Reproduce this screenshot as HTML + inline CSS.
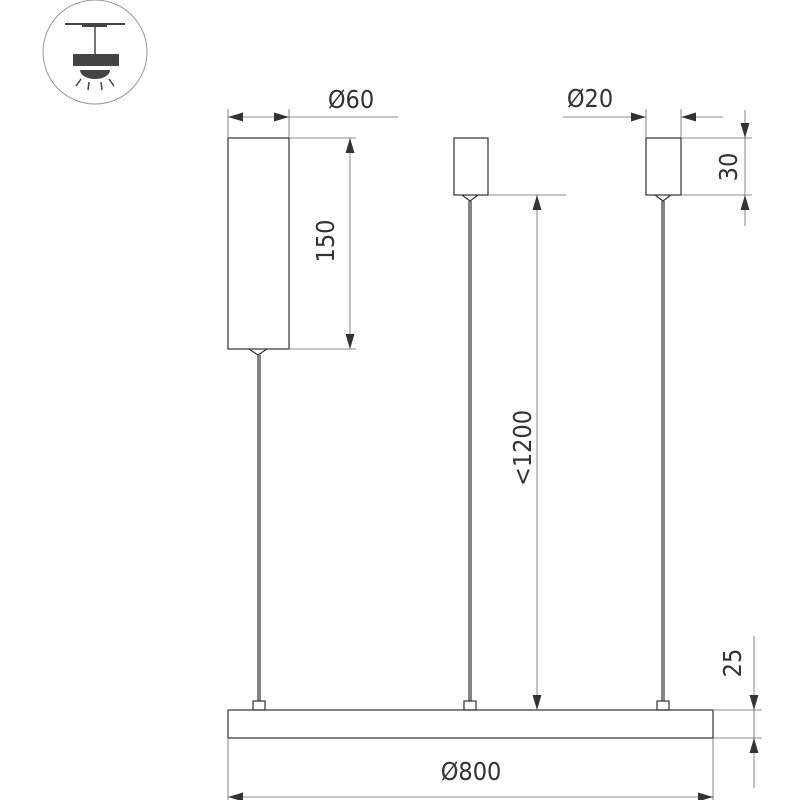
<!DOCTYPE html>
<html><head><meta charset="utf-8"><style>body{margin:0;background:#fff}svg{display:block}text{font-family:"DejaVu Sans Condensed","Liberation Sans Narrow","Liberation Sans",sans-serif;fill:#333}</style></head>
<body>
<svg width="800" height="800" viewBox="0 0 800 800" xmlns="http://www.w3.org/2000/svg">
<defs>
<marker id="a" viewBox="0 0 10 6" refX="10" refY="3" markerWidth="22" markerHeight="9" markerUnits="userSpaceOnUse" orient="auto"><path d="M0,0L10,3L0,6z" fill="#333"/></marker>
</defs>
<!-- icon -->
<circle cx="95" cy="52" r="52" fill="none" stroke="#999" stroke-width="1"/>
<line x1="65" y1="24" x2="125" y2="24" stroke="#444" stroke-width="2"/>
<rect x="82" y="24" width="25" height="3" fill="#444"/>
<line x1="95" y1="24" x2="95" y2="55" stroke="#444" stroke-width="1.5"/>
<rect x="73" y="54" width="46" height="12" fill="#444"/>
<path d="M80,70 A15,9 0 0 0 110,70 Z" fill="#444"/>
<g stroke="#444" stroke-width="1.5"><line x1="81" y1="79" x2="76" y2="86"/><line x1="89" y1="82" x2="88" y2="90"/><line x1="101" y1="82" x2="102" y2="90"/><line x1="109" y1="79" x2="114" y2="86"/></g>

<g fill="none" stroke="#333" stroke-width="1.2">
<rect x="228" y="138" width="61" height="211"/>
<path d="M249,349 L258,355 L267,349"/>
<line x1="258" y1="355" x2="258" y2="701"/>
<line x1="260" y1="355" x2="260" y2="701"/>
<rect x="253" y="701" width="12" height="9"/>
<rect x="454" y="138" width="34" height="57"/>
<path d="M462,195 L470,201 L478,195"/>
<line x1="469" y1="201" x2="469" y2="701"/>
<line x1="471" y1="201" x2="471" y2="701"/>
<rect x="464" y="701" width="12" height="9"/>
<rect x="646" y="138" width="35" height="57"/>
<path d="M655,195 L663,201 L671,195"/>
<line x1="662" y1="201" x2="662" y2="701"/>
<line x1="664" y1="201" x2="664" y2="701"/>
<rect x="657" y="701" width="12" height="9"/>
<rect x="228" y="710" width="485" height="28"/>
</g>

<g fill="none" stroke="#666" stroke-width="0.8">
<line x1="228" y1="109" x2="228" y2="138"/><line x1="289" y1="109" x2="289" y2="138"/>
<line x1="289" y1="117" x2="398" y2="117"/>
<line x1="258" y1="117" x2="228" y2="117" marker-end="url(#a)"/>
<line x1="258" y1="117" x2="289" y2="117" marker-end="url(#a)"/>
<line x1="289" y1="138" x2="356" y2="138"/><line x1="289" y1="349" x2="356" y2="349"/>
<line x1="350" y1="240" x2="350" y2="138" marker-end="url(#a)"/>
<line x1="350" y1="240" x2="350" y2="349" marker-end="url(#a)"/>
<line x1="488" y1="195" x2="566" y2="195"/>
<line x1="537" y1="450" x2="537" y2="195" marker-end="url(#a)"/>
<line x1="537" y1="450" x2="537" y2="710" marker-end="url(#a)"/>
<line x1="646" y1="109" x2="646" y2="138"/><line x1="681" y1="109" x2="681" y2="138"/>
<line x1="563" y1="117" x2="646" y2="117" marker-end="url(#a)"/>
<line x1="723" y1="117" x2="681" y2="117" marker-end="url(#a)"/>
<line x1="681" y1="138" x2="752" y2="138"/><line x1="681" y1="195" x2="752" y2="195"/>
<line x1="745" y1="110" x2="745" y2="138" marker-end="url(#a)"/>
<line x1="745" y1="226" x2="745" y2="195" marker-end="url(#a)"/>
<line x1="745" y1="138" x2="745" y2="195"/>
<line x1="713" y1="710" x2="762" y2="710"/><line x1="713" y1="738" x2="762" y2="738"/>
<line x1="754" y1="636" x2="754" y2="710" marker-end="url(#a)"/>
<line x1="754" y1="788" x2="754" y2="738" marker-end="url(#a)"/>
<line x1="754" y1="710" x2="754" y2="738"/>
<line x1="228" y1="738" x2="228" y2="800"/><line x1="713" y1="738" x2="713" y2="800"/>
<line x1="470" y1="797" x2="228" y2="797" marker-end="url(#a)"/>
<line x1="470" y1="797" x2="713" y2="797" marker-end="url(#a)"/>
</g>

<g font-size="25">
<text x="351" y="108" text-anchor="middle">Ø60</text>
<text x="590" y="107" text-anchor="middle">Ø20</text>
<text x="471" y="780" text-anchor="middle">Ø800</text>
<text transform="translate(334,241) rotate(-90)" text-anchor="middle">150</text>
<text transform="translate(531,448) rotate(-90)" text-anchor="middle">&lt;1200</text>
<text transform="translate(737,167) rotate(-90)" text-anchor="middle">30</text>
<text transform="translate(741,663) rotate(-90)" text-anchor="middle">25</text>
</g>
</svg>
</body></html>
